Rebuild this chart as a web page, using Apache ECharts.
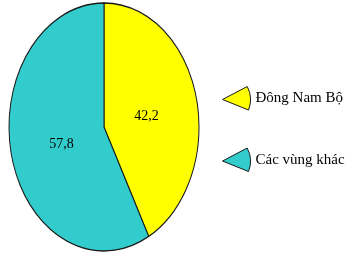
<!DOCTYPE html>
<html>
<head>
<meta charset="utf-8">
<script src="https://cdn.jsdelivr.net/npm/echarts@6/dist/echarts.min.js"></script>
<style>
  html, body { margin: 0; padding: 0; background: #fff; }
  #chart { width: 347px; height: 254px; }
</style>
</head>
<body>
<div id="chart"></div>
<script>
// du lieu bieu do
const names = ['Đông Nam Bộ', 'Các vùng khác'];
const values = [42.2, 57.8];
const labels = ['42,2', '57,8'];
const colors = ['#ffff00', '#33cccc'];

// hinh elip: tam va ban kinh
const cx = 104, cy = 127, rx = 95, ry = 124;
const k = ry / rx;
const total = values.reduce((a, b) => a + b, 0);

function makeSeries(i) {
  let before = 0;
  for (let j = 0; j < i; j++) before += values[j];
  return {
    name: names[i],
    type: 'custom',
    coordinateSystem: 'none',
    itemStyle: { color: colors[i] },
    data: [values[i]],
    renderItem: function (params, api) {
      const v = api.value(0);
      const start = -Math.PI / 2 + 2 * Math.PI * before / total;
      const end = start + 2 * Math.PI * v / total;
      const mid = (start + end) / 2;
      return {
        type: 'group',
        children: [
          {
            type: 'sector',
            x: cx, y: cy, scaleY: k,
            shape: { cx: 0, cy: 0, r0: 0, r: rx, startAngle: start, endAngle: end, clockwise: true },
            style: { fill: colors[i], stroke: '#1a1a1a', lineWidth: 1, strokeNoScale: true }
          },
          {
            type: 'text',
            x: cx + 0.46 * rx * Math.cos(mid),
            y: cy + 0.46 * ry * Math.sin(mid) + 3,
            style: {
              text: labels[i],
              font: '14px "Liberation Serif"',
              fill: '#000',
              align: 'center',
              verticalAlign: 'middle'
            }
          }
        ]
      };
    }
  };
}

const chart = echarts.init(document.getElementById('chart'));
chart.setOption({
  animation: false,
  color: colors,
  legend: {
    orient: 'vertical',
    left: 222,
    top: 86,
    padding: 0,
    itemWidth: 28,
    itemHeight: 24,
    itemGap: 37,
    icon: 'path://M0,13L24.7,0A28,28,0,0,1,26,23.5Z',
    itemStyle: { borderColor: '#1a1a1a', borderWidth: 1 },
    textStyle: { fontFamily: 'Liberation Serif', fontSize: 15, color: '#000', padding: [4, 0, 0, 0] },
    data: names
  },
  series: [makeSeries(0), makeSeries(1)]
});
</script>
</body>
</html>
